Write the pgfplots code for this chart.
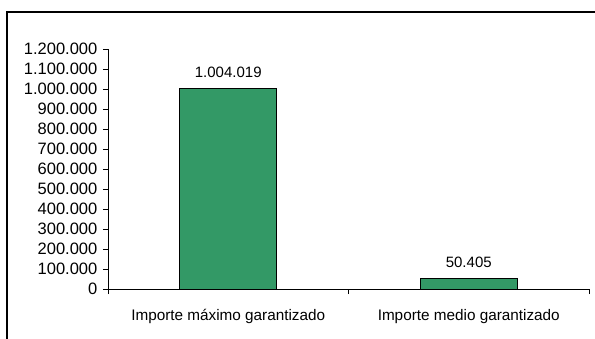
\documentclass[border=0pt]{standalone}
\usepackage{pgfplots}
\pgfplotsset{compat=1.18}
\usepackage{fontspec}
\setmainfont{Liberation Sans}
\definecolor{barverde}{RGB}{51,153,102}
\begin{document}
\begin{tikzpicture}[x=1pt,y=1pt]
\useasboundingbox (0,0) rectangle (595,338);
% marco del gráfico (recortado arriba y a la derecha)
\draw[line width=1.3pt] (7,-2) -- (7,326) -- (597,326);
\begin{axis}[
    at={(108pt,49pt)}, anchor=south west,
    scale only axis, width=481pt, height=240pt,
    xmin=0, xmax=2, ymin=0, ymax=1200000,
    axis x line*=bottom, axis y line*=left,
    axis line style={line width=0.9pt},
    tick style={line width=0.9pt, black},
    tick align=outside, major tick length=5pt,
    xtick={0,1,2}, xticklabels={,,},
    extra x ticks={0.5,1.5},
    extra x tick labels={Importe máximo garantizado, Importe medio garantizado},
    extra x tick style={major tick length=0pt},
    ytick={0,100000,...,1200000},
    scaled y ticks=false,
    /pgf/number format/assume math mode=true,
    yticklabel style={font=\fontsize{16.5}{16.5}\selectfont, inner sep=5.5pt,
        /pgf/number format/fixed, /pgf/number format/1000 sep={.}},
    xticklabel style={font=\fontsize{15.3}{15.3}\selectfont, yshift=-17pt},
    clip=false,
]
\addplot[ybar, bar width=0.403, fill=barverde, draw=black, line width=0.9pt,
    point meta=explicit symbolic, nodes near coords,
    nodes near coords style={font=\fontsize{15}{15}\selectfont, yshift=7pt}]
coordinates {(0.5,1004019) [1.004.019] (1.5,50405) [50.405]};
\end{axis}
\end{tikzpicture}
\end{document}
